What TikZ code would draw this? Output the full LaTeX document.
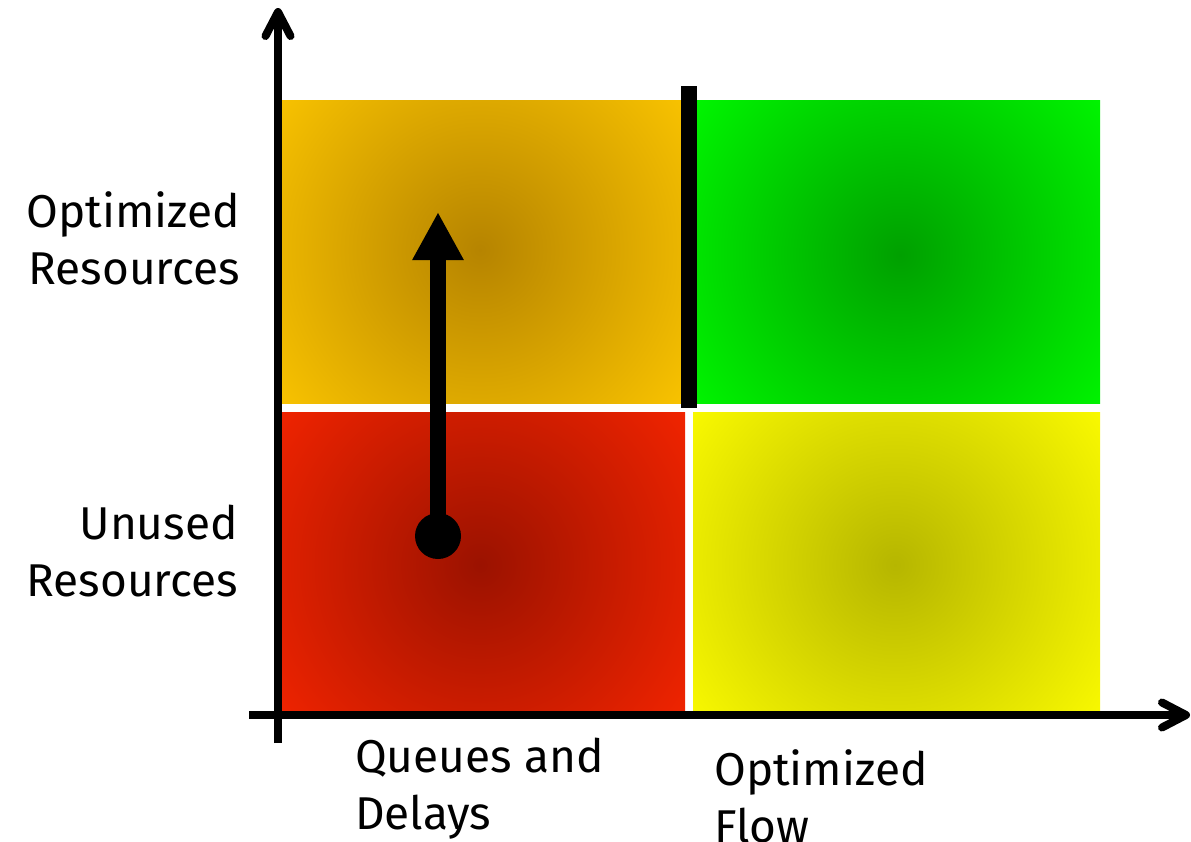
\documentclass[tikz,border=0pt]{standalone}
\usepackage{fontspec}
\setmainfont{Fira Sans}
\usetikzlibrary{arrows.meta,calc}

\definecolor{orangeout}{RGB}{250,196,0}
\definecolor{orangein}{RGB}{182,132,0}
\definecolor{greenout}{RGB}{0,246,0}
\definecolor{greenin}{RGB}{0,160,0}
\definecolor{redout}{RGB}{242,36,0}
\definecolor{redin}{RGB}{155,18,0}
\definecolor{yellowout}{RGB}{250,250,0}
\definecolor{yellowin}{RGB}{182,182,0}

\tikzset{
  axisline/.style={line width=8pt},
  axishead/.style={line width=8pt, line cap=round, line join=round},
  label/.style={font=\fontsize{46}{57}\selectfont, align=left, inner sep=0pt},
  rlabel/.style={label, align=right},
}

% one quadrant: rectangle with an off-centre radial darkening
\newcommand{\quadrant}[6]{% corner1, corner2, centre, inner, outer, radius
  \begin{scope}
    \clip #1 rectangle #2;
    \fill[#5] #1 rectangle #2;
    \shade[inner color=#4, outer color=#5] #3 circle (#6);
  \end{scope}
}

\begin{document}
\begin{tikzpicture}[x=1pt,y=-1pt]
  \useasboundingbox (0,0) rectangle (1191,841);

  % quadrants
  \quadrant{(282,100)}{(689,403)}{(480,250)}{orangein}{orangeout}{260}
  \quadrant{(697,100)}{(1100,403)}{(900,255)}{greenin}{greenout}{260}
  \quadrant{(282,412)}{(685,711)}{(480,565)}{redin}{redout}{260}
  \quadrant{(693,412)}{(1100,711)}{(895,565)}{yellowin}{yellowout}{260}

  % thick divider
  \fill[black] (681,86) rectangle (697,408);

  % axes
  \coordinate (ybot) at (278,743);
  \coordinate (ytop) at (278,12);
  \coordinate (xleft) at (249,715);
  \coordinate (xright) at (1186,715);
  \draw[axisline] (ybot) -- (ytop);
  \draw[axishead] ($(ytop)+(-12.5,24)$) -- (ytop) -- ($(ytop)+(12.5,24)$);
  \draw[axisline] (xleft) -- (xright);
  \draw[axishead] ($(xright)+(-24,-12.5)$) -- (xright) -- ($(xright)+(-24,12.5)$);

  % movement arrow
  \node[circle, fill=black, minimum size=46pt, inner sep=0pt] (dot) at (438,536) {};
  \coordinate (tip) at (438,212);
  \draw[line width=16pt, -{Triangle[length=48pt,width=48pt]}] (dot.center) -- (tip);

  % labels
  \node[rlabel, anchor=north east] (optres) at (240,191) {Optimized\\Resources};
  \node[rlabel, anchor=north east] (unres) at (238,505) {Unused\\Resources};
  \node[label, anchor=north west] (queues) at (355,738) {Queues and\\Delays};
  \node[label, anchor=north west] (optflow) at (714,749) {Optimized\\Flow};
\end{tikzpicture}
\end{document}
